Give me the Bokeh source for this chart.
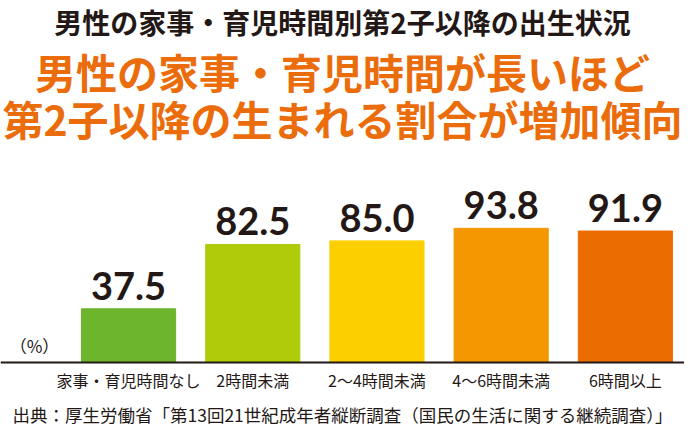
from bokeh.plotting import figure
from bokeh.models import ColumnDataSource, Range1d, Label, Span
from bokeh.core.properties import value
from bokeh.embed import file_html
from bokeh.resources import INLINE

# data (% with a 2nd+ child born)
categories = ["家事・育児時間なし", "2時間未満", "2〜4時間未満", "4〜6時間未満", "6時間以上"]
rates = [37.5, 82.5, 85.0, 93.8, 91.9]
bar_colors = ["#6cb52d", "#b0cb0a", "#fcd000", "#f39800", "#eb6d02"]

title_top = "男性の家事・育児時間別第2子以降の出生状況"
headline = ["男性の家事・育児時間が長いほど", "第2子以降の生まれる割合が増加傾向"]
unit_text = "（%）"
source_note = "出典：厚生労働省「第13回21世紀成年者縦断調査（国民の生活に関する継続調査）」"

JP = "Noto Sans CJK JP"
INK = "#231815"
ORANGE = "#eb6c0b"

xs = list(range(len(categories)))
src = ColumnDataSource(dict(
    x=xs, rate=rates, color=bar_colors, cat=categories,
    label=["%.1f" % v for v in rates],
))

# the plot frame fills the whole canvas; y below 0 holds the category labels and note
p = figure(width=684, height=427,
           x_range=Range1d(-1.031, 4.476), y_range=Range1d(-45.5, 253.1),
           output_backend="svg", toolbar_location=None,
           x_axis_location=None, y_axis_location=None,
           min_border=0)
p.outline_line_color = None
p.grid.visible = False
p.background_fill_color = "white"
p.border_fill_color = "white"

p.vbar(x="x", top="rate", width=0.758, color="color", source=src)
p.add_layout(Span(location=0, dimension="width", line_color=INK, line_width=2))

p.text(x="x", y="rate", text="label", source=src,
       text_font=value("Lato"), text_font_style="bold", text_font_size="38px",
       text_color=INK, text_align="center", text_baseline="alphabetic", y_offset=-23)
p.text(x="x", y=0, text="cat", source=src,
       text_font=value(JP), text_font_size="16px",
       text_color=INK, text_align="center", text_baseline="middle", y_offset=18)

# titles and notes, in screen units from the lower-left corner
def note(text, x, y, size, color=INK, style="normal", align="center"):
    p.add_layout(Label(x=x, y=y, x_units="screen", y_units="screen", text=text,
                       text_font=JP, text_font_size=size, text_font_style=style,
                       text_color=color, text_align=align, text_baseline="middle"))

note(title_top, 342, 406, "28px", style="bold")
note(headline[0], 342, 357, "41px", color=ORANGE, style="bold")
note(headline[1], 342, 310, "41px", color=ORANGE, style="bold")
note(unit_text, 34, 82, "17px")
note(source_note, 342, 13, "17.5px")

open("out.html", "w").write(file_html(p, INLINE))
